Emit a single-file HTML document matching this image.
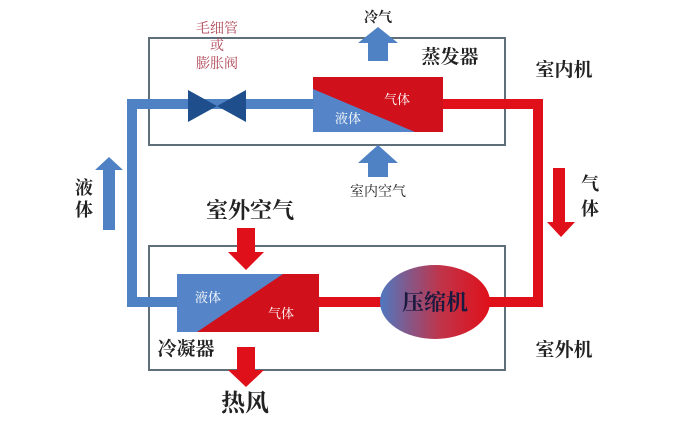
<!DOCTYPE html>
<html><head><meta charset="utf-8"><style>
html,body{margin:0;padding:0;background:#fff;}
svg{display:block;}
text{font-family:"Liberation Serif","Noto Serif CJK SC","Noto Sans CJK SC",serif;}
</style></head><body>
<svg width="700" height="438" viewBox="0 0 700 438" xmlns="http://www.w3.org/2000/svg">
<defs>
<linearGradient id="g" x1="0" x2="1" y1="0" y2="0">
<stop offset="0" stop-color="#4f78c0"/><stop offset="0.55" stop-color="#c0344a"/><stop offset="1" stop-color="#e0101a"/>
</linearGradient>
</defs>
<rect width="700" height="438" fill="#fff"/>
<!-- boxes -->
<rect x="149" y="38" width="356" height="107" fill="none" stroke="#5f6f7a" stroke-width="2"/>
<rect x="149" y="246" width="356" height="124" fill="none" stroke="#5f6f7a" stroke-width="2"/>
<!-- blue pipe -->
<path d="M313 104 H132 V302 H178" fill="none" stroke="#4f82c4" stroke-width="10"/>
<!-- red pipes -->
<path d="M443 104 H538 V302 H485" fill="none" stroke="#e0101a" stroke-width="10"/>
<rect x="318" y="297" width="66" height="10" fill="#e0101a"/>
<!-- valve -->
<polygon points="188,90 217,106 188,122" fill="#1f4e8c"/>
<polygon points="246,90 217,106 246,122" fill="#1f4e8c"/>
<!-- evaporator -->
<rect x="313" y="77" width="130" height="55" fill="#d0101a"/>
<polygon points="313,89 415,132 313,132" fill="#5585c8"/>
<text x="335" y="123" font-size="13" fill="#fff">液体</text>
<text x="384" y="104" font-size="13" fill="#fff">气体</text>
<!-- condenser -->
<rect x="177" y="274" width="142" height="58" fill="#5585c8"/>
<polygon points="283,274 319,274 319,332 197,332" fill="#d0101a"/>
<text x="195" y="302" font-size="13" fill="#fff">液体</text>
<text x="268" y="318" font-size="13" fill="#fff">气体</text>
<!-- compressor -->
<ellipse cx="435" cy="302" rx="55" ry="37" fill="url(#g)"/>
<text x="435" y="310" font-size="22" fill="#1a1a40" text-anchor="middle" font-weight="bold">压缩机</text>
<!-- blue arrows -->
<polygon points="368,61 368,43 358,43 378,27 398,43 388,43 388,61" fill="#4f82c4"/>
<polygon points="368,177 368,163 358,163 378,145 398,163 388,163 388,177" fill="#4f82c4"/>
<polygon points="103,230 103,170 95,170 109,157 123,170 115,170 115,230" fill="#4f82c4"/>
<!-- red arrows -->
<polygon points="237,228 255,228 255,252 264,252 246,270 228,252 237,252" fill="#e0101a"/>
<polygon points="237,347 255,347 255,370 264,370 246,387 228,370 237,370" fill="#e0101a"/>
<polygon points="553,168 565,168 565,222 575,222 561,237 547,222 553,222" fill="#e0101a"/>
<!-- labels -->
<text x="378" y="22" font-size="14" text-anchor="middle" fill="#222" font-weight="bold">冷气</text>
<text x="450" y="63" font-size="19" text-anchor="middle" fill="#222" font-weight="bold">蒸发器</text>
<text x="564" y="76" font-size="19" text-anchor="middle" fill="#222" font-weight="bold">室内机</text>
<text x="217" y="33" font-size="14" text-anchor="middle" fill="#b04858">毛细管</text>
<text x="217" y="50" font-size="14" text-anchor="middle" fill="#b04858">或</text>
<text x="217" y="68" font-size="14" text-anchor="middle" fill="#b04858">膨胀阀</text>
<text x="378" y="196" font-size="14" text-anchor="middle" fill="#222">室内空气</text>
<text x="250" y="218" font-size="22" text-anchor="middle" fill="#222" font-weight="bold">室外空气</text>
<text x="84" y="194" font-size="18" text-anchor="middle" fill="#222" font-weight="bold">液</text>
<text x="84" y="216" font-size="18" text-anchor="middle" fill="#222" font-weight="bold">体</text>
<text x="590" y="190" font-size="18" text-anchor="middle" fill="#222" font-weight="bold">气</text>
<text x="590" y="215" font-size="18" text-anchor="middle" fill="#222" font-weight="bold">体</text>
<text x="186" y="355" font-size="19" text-anchor="middle" fill="#222" font-weight="bold">冷凝器</text>
<text x="245" y="411" font-size="24" text-anchor="middle" fill="#222" font-weight="bold">热风</text>
<text x="564" y="356" font-size="19" text-anchor="middle" fill="#222" font-weight="bold">室外机</text>
</svg>
</body></html>
